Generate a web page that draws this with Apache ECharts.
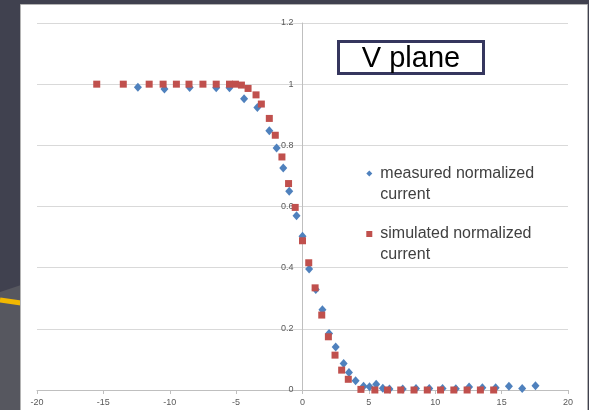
<!DOCTYPE html>
<html>
<head>
<meta charset="utf-8">
<script src="https://cdn.jsdelivr.net/npm/echarts@6/dist/echarts.min.js"></script>
<style>
html,body{margin:0;padding:0;background:#40414f;}
#c{width:589px;height:410px;}
</style>
</head>
<body>
<div id="c"></div>
<script>
// ---- data ----
const measuredName = 'measured normalized current';
const simulatedName = 'simulated normalized current';
const measuredX = [-12.4, -10.4, -8.5, -6.5, -5.5, -4.4, -3.4, -2.5, -1.95, -1.45, -1.0, -0.45, 0.0, 0.5, 1.0, 1.5, 2.0, 2.5, 3.1, 3.5, 4.0, 4.6, 5.05, 5.55, 6.05, 6.55, 7.55, 8.55, 9.55, 10.55, 11.55, 12.55, 13.55, 14.55, 15.55, 16.55, 17.55];
const measuredY = [0.990, 0.984, 0.989, 0.988, 0.988, 0.952, 0.924, 0.848, 0.791, 0.726, 0.650, 0.570, 0.503, 0.396, 0.329, 0.262, 0.185, 0.141, 0.087, 0.057, 0.030, 0.012, 0.011, 0.019, 0.006, 0.003, 0.003, 0.005, 0.005, 0.005, 0.004, 0.010, 0.007, 0.007, 0.012, 0.005, 0.014];
const simulatedX = [-15.5, -13.5, -11.55, -10.5, -9.5, -8.55, -7.5, -6.5, -5.5, -5.05, -4.6, -4.1, -3.5, -3.1, -2.5, -2.05, -1.55, -1.05, -0.55, 0.0, 0.47, 0.95, 1.45, 1.95, 2.45, 2.95, 3.45, 4.4, 5.45, 6.4, 7.4, 8.4, 9.4, 10.4, 11.4, 12.4, 13.4, 14.4];
const simulatedY = [1.0, 1.0, 1.0, 1.0, 1.0, 1.0, 1.0, 1.0, 1.0, 1.0, 0.997, 0.986, 0.965, 0.935, 0.888, 0.833, 0.762, 0.675, 0.597, 0.488, 0.416, 0.334, 0.245, 0.174, 0.114, 0.065, 0.035, 0.002, 0.0, 0.0, 0.0, 0.0, 0.0, 0.0, 0.0, 0.0, 0.0, 0.0];
const xTicks = {min: -20, max: 20, interval: 5};
const yTicks = {min: 0, max: 1.2, interval: 0.2};
const titleText = 'V plane';

const zip = (xs, ys) => xs.map((x, i) => [x, ys[i]]);
const FONT = 'Liberation Sans';

const GRID_LEFT = 37, GRID_RIGHT = 21;
const PLOT_W = 589 - GRID_LEFT - GRID_RIGHT;
// place the y axis where x = 0 falls on the x scale
const yAxisOffset = -PLOT_W * (0 - xTicks.min) / (xTicks.max - xTicks.min);

const chart = echarts.init(document.getElementById('c'), null, {renderer: 'canvas'});
chart.setOption({
  backgroundColor: '#40414f',
  animation: false,
  graphic: [
    {type: 'polygon', z: -100, shape: {points: [[0, 292], [21, 285], [21, 410], [0, 410]]}, style: {fill: '#56575f'}},
    {type: 'line', z: -99, shape: {x1: 0, y1: 300, x2: 21, y2: 303}, style: {stroke: '#f2b800', lineWidth: 5}},
    {type: 'rect', z: -98, shape: {x: 20.5, y: 4.5, width: 567, height: 410}, style: {fill: '#ffffff', stroke: '#b4b4b4', lineWidth: 1}},
    {type: 'rect', z: 10, shape: {x: 338.5, y: 41.5, width: 145, height: 32}, style: {fill: '#ffffff', stroke: '#35365e', lineWidth: 3}},
    {type: 'text', z: 11, x: 411, y: 58.5, style: {text: titleText, font: '29px "Liberation Sans"', fill: '#000000', align: 'center', verticalAlign: 'middle'}}
  ],
  grid: {left: GRID_LEFT, right: GRID_RIGHT, top: 23, bottom: 20, containLabel: false},
  legend: [
    {
      data: [measuredName], left: 366.3, top: 142, padding: 0, orient: 'vertical',
      icon: 'path://M0,-1L1,0L0,1L-1,0Z', itemWidth: 12, itemHeight: 6,
      formatter: () => '\nmeasured normalized\ncurrent',
      textStyle: {fontFamily: FONT, fontSize: 16, lineHeight: 21, color: '#404040'}
    },
    {
      data: [simulatedName], left: 366.3, top: 202.5, padding: 0, orient: 'vertical',
      icon: 'path://M0,0L1,0L1,1L0,1Z', itemWidth: 12, itemHeight: 6,
      formatter: () => '\nsimulated normalized\ncurrent',
      textStyle: {fontFamily: FONT, fontSize: 16, lineHeight: 21, color: '#404040'}
    }
  ],
  xAxis: {
    type: 'value', min: xTicks.min, max: xTicks.max, interval: xTicks.interval,
    axisLine: {show: true, lineStyle: {color: '#bfbfbf', width: 1}},
    axisTick: {show: true, length: 4, lineStyle: {color: '#bfbfbf'}},
    axisLabel: {fontFamily: FONT, fontSize: 9, color: '#595959', margin: 8},
    splitLine: {show: false}
  },
  yAxis: {
    type: 'value', min: yTicks.min, max: yTicks.max, interval: yTicks.interval,
    offset: yAxisOffset,
    axisLine: {show: true, onZero: false, lineStyle: {color: '#bfbfbf', width: 1}},
    axisTick: {show: false},
    axisLabel: {fontFamily: FONT, fontSize: 9, color: '#595959', margin: 9},
    splitLine: {show: true, lineStyle: {color: '#d9d9d9', width: 1}}
  },
  series: [
    {
      name: measuredName, type: 'scatter', symbol: 'diamond', symbolSize: [8, 9],
      itemStyle: {color: '#4f81bd', opacity: 1}, data: zip(measuredX, measuredY)
    },
    {
      name: simulatedName, type: 'scatter', symbol: 'rect', symbolSize: 7,
      itemStyle: {color: '#c0504d', opacity: 1}, data: zip(simulatedX, simulatedY)
    }
  ]
});
</script>
</body>
</html>
